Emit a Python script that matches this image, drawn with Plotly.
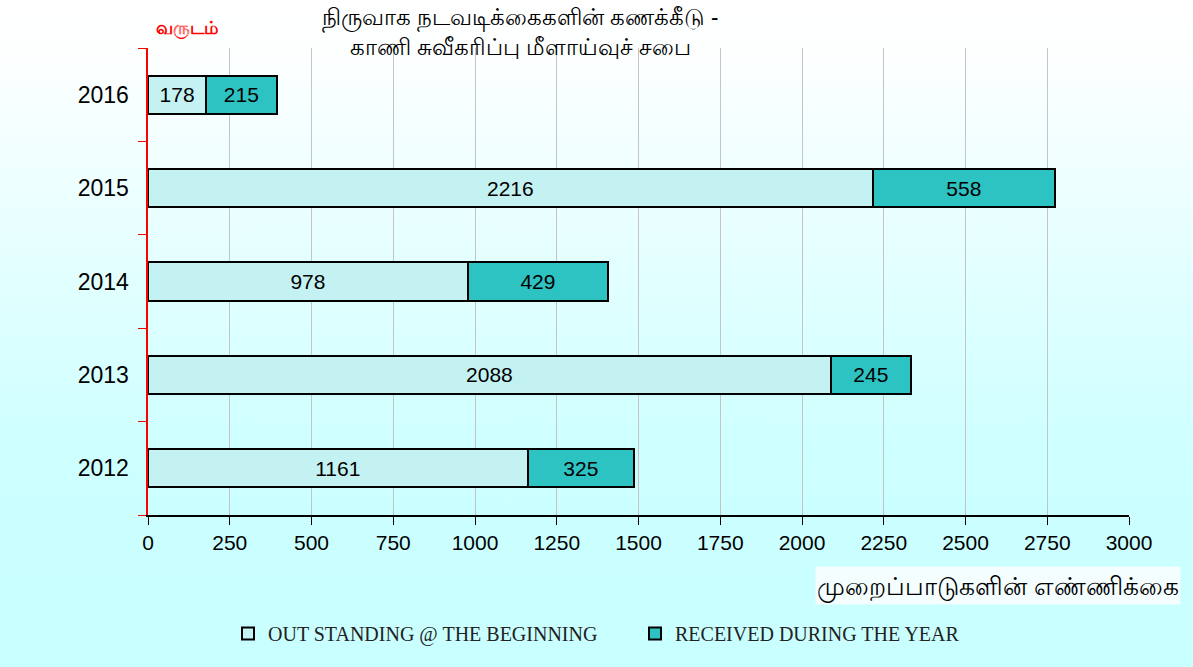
import base64
import plotly.graph_objects as go

years = ["2012", "2013", "2014", "2015", "2016"]
outstanding = [1161, 2088, 978, 2216, 178]
received = [325, 245, 429, 558, 215]
xticks = [0, 250, 500, 750, 1000, 1250, 1500, 1750, 2000, 2250, 2500, 2750, 3000]

title_txt = "நிருவாக நடவடிக்கைகளின் கணக்கீடு -<br>காணி சுவீகரிப்பு மீளாய்வுச் சபை"
ytitle_txt = "வருடம்"
xtitle_txt = "முறைப்பாடுகளின் எண்ணிக்கை"

W, H = 1193, 667
ML, MR, MT, MB = 148, 64, 48, 152
pw, ph = W - ML - MR, H - MT - MB

# white -> pale cyan background, like the original slide
svg = ('<svg xmlns="http://www.w3.org/2000/svg" width="100" height="100" preserveAspectRatio="none">'
       '<defs><linearGradient id="g" x1="0" y1="0" x2="0" y2="1">'
       '<stop offset="0" stop-color="#ffffff"/><stop offset="0.08" stop-color="#fdffff"/>'
       '<stop offset="0.68" stop-color="#cdffff"/><stop offset="1" stop-color="#c8ffff"/>'
       '</linearGradient></defs><rect width="100" height="100" fill="url(#g)"/></svg>')
bg_src = "data:image/svg+xml;base64," + base64.b64encode(svg.encode()).decode()

fig = go.Figure()
fig.add_trace(go.Bar(
    y=years, x=outstanding, orientation="h", name="OUT STANDING @ THE BEGINNING",
    marker=dict(color="#c4f2f2", line=dict(color="black", width=2)),
    text=outstanding, textposition="inside", insidetextanchor="middle",
    textfont=dict(family="Liberation Sans", size=21, color="black"),
    width=0.41,
))
fig.add_trace(go.Bar(
    y=years, x=received, orientation="h", name="RECEIVED DURING THE YEAR",
    marker=dict(color="#2ec3c3", line=dict(color="black", width=2)),
    text=received, textposition="inside", insidetextanchor="middle",
    textfont=dict(family="Liberation Sans", size=21, color="black"),
    width=0.41,
))

fig.update_layout(
    width=W, height=H,
    barmode="stack",
    paper_bgcolor="#ccffff",
    plot_bgcolor="#f7fcff",
    margin=dict(l=ML, r=MR, t=MT, b=MB),
    font=dict(family="Liberation Sans", color="black"),
    legend=dict(orientation="h", x=(236 - ML - 8) / pw, xanchor="left", y=-0.212, yanchor="top",
                font=dict(family="Liberation Serif", size=20, color="#222"),
                traceorder="normal", bgcolor="rgba(0,0,0,0)",
                entrywidth=362, entrywidthmode="pixels", itemwidth=30),
    showlegend=True,
    images=[dict(source=bg_src, xref="paper", yref="paper",
                 x=-ML / pw, y=1 + MT / ph, sizex=W / pw, sizey=H / ph,
                 xanchor="left", yanchor="top", sizing="stretch", layer="below")],
)
fig.update_xaxes(
    range=[0, 3000], tickvals=xticks, showgrid=True, gridcolor="#c4c4c4", gridwidth=1,
    showline=True, linecolor="black", linewidth=1.5, ticks="outside", ticklen=8,
    tickcolor="black", tickfont=dict(size=21), zeroline=False,
)
fig.update_yaxes(
    type="category", categoryorder="array", categoryarray=years,
    showline=True, linecolor="red", linewidth=1.5, ticks="outside", ticklen=8,
    tickcolor="red", tickson="boundaries", tickfont=dict(size=23), showgrid=False,
    ticksuffix="  ",
)
fig.add_annotation(text=title_txt, xref="paper", yref="paper", x=(520 - ML) / pw, y=1 + 50 / ph,
                   xanchor="center", yanchor="top", showarrow=False,
                   font=dict(family="Noto Sans, Liberation Sans", size=23, color="black"))
fig.add_annotation(text="<b>" + ytitle_txt + "</b>", xref="paper", yref="paper", x=0.04, y=1 + 6 / ph,
                   xanchor="center", yanchor="bottom", showarrow=False,
                   font=dict(family="Noto Sans, Liberation Sans", size=18, color="red"))
fig.add_annotation(text=xtitle_txt, xref="paper", yref="paper", x=1 + 52 / pw, y=-70 / ph,
                   xanchor="right", yanchor="middle", showarrow=False,
                   bgcolor="#f4fefe",
                   font=dict(family="Noto Sans, Liberation Sans", size=25, color="black"))

fig.write_html("out.html", config={"displayModeBar": False},
               post_script="document.body.style.margin='0';")
